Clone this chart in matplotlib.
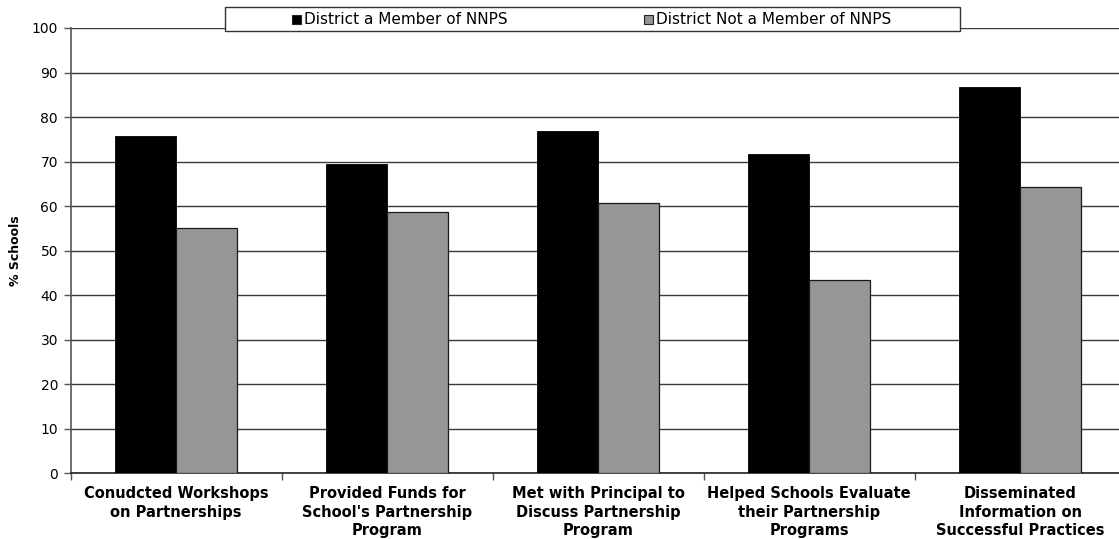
import numpy as np
import matplotlib.pyplot as plt
from matplotlib.patches import Rectangle

plt.rcParams['font.family'] = 'DejaVu Sans'

categories = ["Conudcted Workshops\non Partnerships",
              "Provided Funds for\nSchool's Partnership\nProgram",
              "Met with Principal to\nDiscuss Partnership\nProgram",
              "Helped Schools Evaluate\ntheir Partnership\nPrograms",
              "Disseminated\nInformation on\nSuccessful Practices"]
series_names = ["District a Member of NNPS", "District Not a Member of NNPS"]
member = [75.8, 69.5, 76.9, 71.6, 86.8]
non_member = [55.1, 58.7, 60.6, 43.4, 64.2]
yticks = list(range(0, 101, 10))

colors = ['#000000', '#969696']

W, H = 1119, 539
fig = plt.figure(figsize=(W / 100, H / 100), dpi=100)
# axes runs slightly off the right edge of the canvas
ax = fig.add_axes([70.5 / W, 1 - 473.3 / H, 1055.3 / W, 445.3 / H])

x = np.arange(len(categories))
bw = 0.288
b1 = ax.bar(x - bw / 2, member, bw, color=colors[0], edgecolor='#000000', linewidth=0.6, zorder=3)
b2 = ax.bar(x + bw / 2, non_member, bw, color=colors[1], edgecolor='#1a1a1a', linewidth=0.9, zorder=3)

ax.set_xlim(-0.5, len(categories) - 0.5)
ax.set_ylim(0, 100)
ax.set_yticks(yticks)
ax.yaxis.grid(True, color='#3a3a3a', linewidth=1.0, zorder=0)
ax.set_axisbelow(True)

# category labels at centers, tick marks at the boundaries
ax.set_xticks(x)
ax.set_xticklabels(categories, fontsize=10.5, fontweight='bold', linespacing=1.32)
ax.tick_params(axis='x', length=0, pad=9)
ax.set_xticks(np.arange(-0.5, len(categories), 1.0), minor=True)
ax.tick_params(axis='x', which='minor', length=5, width=1, color='#555555', direction='out')
ax.tick_params(axis='y', length=5, width=1, color='#555555', labelsize=10, pad=4)

for s in ['top', 'right']:
    ax.spines[s].set_visible(False)
ax.spines['left'].set_color('#555555')
ax.spines['bottom'].set_color('#222222')
ax.spines['left'].set_linewidth(1.2)
ax.spines['bottom'].set_linewidth(1.2)

ax.set_ylabel('% Schools', fontsize=9, fontweight='bold', labelpad=7)

# legend box across the top
fig.patches.append(Rectangle((225 / W, 1 - 31 / H), 735 / W, 24 / H, transform=fig.transFigure,
                             facecolor='white', edgecolor='#333333', linewidth=1.0, zorder=5))
for xs, name, c in zip([292, 644], series_names, colors):
    fig.patches.append(Rectangle((xs / W, 1 - 23.5 / H), 8.5 / W, 8.5 / H, transform=fig.transFigure,
                                 facecolor=c, edgecolor='#222222', linewidth=0.8, zorder=6))
    fig.text((xs + 12) / W, 1 - 19 / H, name, fontsize=11, va='center', ha='left', zorder=7)

fig.savefig('out.png', dpi=100)
